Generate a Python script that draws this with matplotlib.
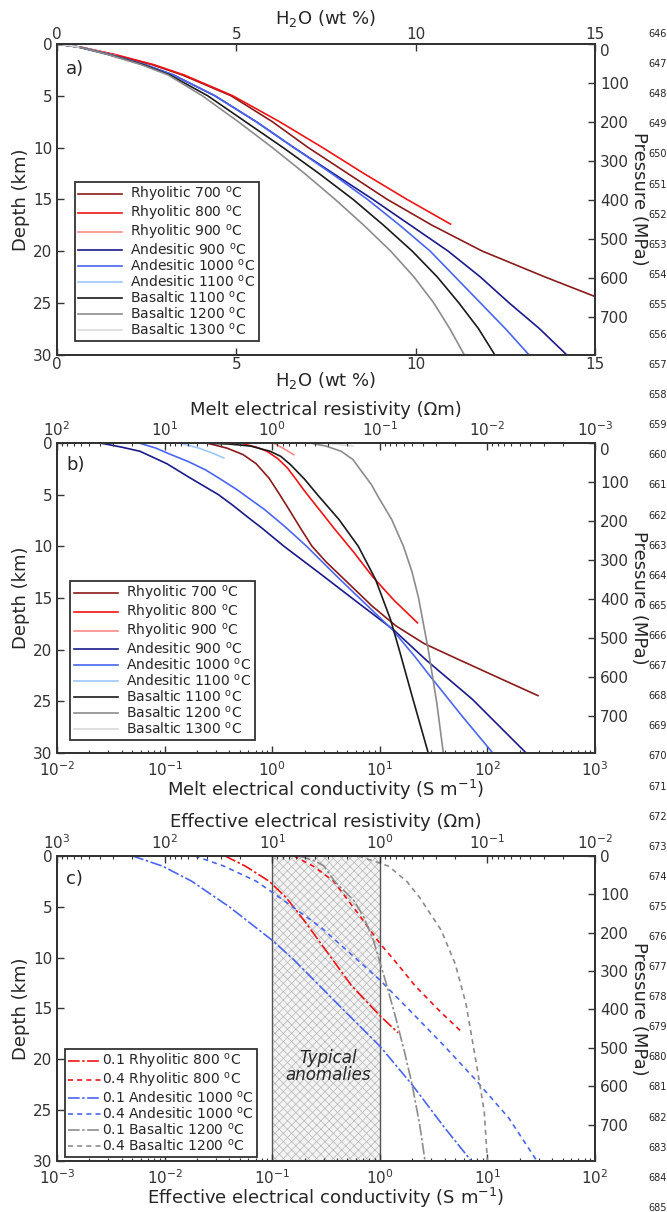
import matplotlib.pyplot as plt
import numpy as np

plt.rcParams['font.family'] = ['DejaVu Sans']
plt.rcParams['axes.unicode_minus'] = False
plt.rcParams['mathtext.default'] = 'regular'
plt.rcParams['hatch.linewidth'] = 0.5
plt.rcParams['hatch.color'] = '#b8b8b8'
plt.rcParams['text.color'] = '#262626'
plt.rcParams['axes.labelcolor'] = '#262626'
plt.rcParams['xtick.color'] = '#333333'
plt.rcParams['ytick.color'] = '#333333'
plt.rcParams['axes.edgecolor'] = '#333333'

MPA_PER_KM = 26.5

# ---------------- panel a : H2O solubility (wt %) vs depth (km)
depth_a = [0, 0.3, 1, 2, 3, 5, 7.5, 10, 12.5, 15, 17.5, 20, 22.5, 25, 27.5, 30]
h2o_and900 = [0, 0.62, 1.45, 2.45, 3.25, 4.4, 5.55, 6.6, 7.7, 8.8, 9.85, 10.9, 11.8, 12.6, 13.45, 14.2]
h2o_and1000 = [0, 0.62, 1.45, 2.45, 3.25, 4.4, 5.55, 6.6, 7.65, 8.65, 9.55, 10.4, 11.1, 11.8, 12.5, 13.15]
h2o_bas1100 = [0, 0.6, 1.42, 2.4, 3.15, 4.2, 5.25, 6.3, 7.3, 8.25, 9.1, 9.9, 10.6, 11.2, 11.75, 12.2]
h2o_bas1200 = [0, 0.6, 1.4, 2.35, 3.1, 4.05, 5.05, 6.0, 6.9, 7.75, 8.55, 9.3, 9.95, 10.5, 10.95, 11.35]

depth_rhy700_a = [0, 0.3, 1, 2, 3, 5, 7.5, 10, 12.5, 15, 17.5, 20, 22.5, 24.4]
h2o_rhy700 = [0, 0.65, 1.55, 2.65, 3.5, 4.85, 6.0, 7.0, 8.1, 9.2, 10.45, 11.85, 13.6, 15.0]
depth_rhy800_a = [0, 0.3, 1, 2, 3, 5, 7.5, 10, 12.5, 15, 17.4]
h2o_rhy800 = [0, 0.65, 1.6, 2.7, 3.55, 4.9, 6.2, 7.4, 8.55, 9.75, 10.97]
depth_rhy900_a = [0, 0.3, 0.6, 1.13]
h2o_rhy900 = [0, 0.65, 1.05, 1.65]
depth_and1100_a = [0, 0.3, 0.7, 1.45]
h2o_and1100 = [0, 0.62, 1.1, 1.85]
depth_bas1300_a = [0, 0.15, 0.3]
h2o_bas1300 = [0, 0.35, 0.6]

# ---------------- panel b : melt conductivity, log10 (S/m)
depth_rhy700_b = [0, 0.5, 1.13, 2, 3.4, 5, 6.5, 8.2, 10, 11.5, 13.5, 15.8, 17.7, 19.4, 20.8, 22.7, 24.45]
logsig_rhy700 = [-0.61, -0.42, -0.27, -0.15, -0.03, 0.07, 0.16, 0.26, 0.37, 0.5, 0.7, 0.93, 1.15, 1.41, 1.7, 2.1, 2.47]
depth_rhy800_b = [0, 0.4, 0.8, 1.5, 2.4, 3.5, 4.5, 5.3, 7.4, 8.2, 10.6, 12.9, 15.2, 17.4]
logsig_rhy800 = [-0.3, -0.15, -0.05, 0.05, 0.14, 0.22, 0.29, 0.35, 0.51, 0.57, 0.76, 0.93, 1.13, 1.35]
depth_rhy900_b = [0, 0.5, 1.13]
logsig_rhy900 = [0.01, 0.1, 0.2]
depth_and900_b = [0, 0.4, 0.8, 2, 3.4, 5, 6, 7.4, 8.2, 10, 12.6, 15, 18.1, 21, 24.8, 30]
logsig_and900 = [-1.6, -1.4, -1.23, -0.98, -0.76, -0.5, -0.37, -0.2, -0.1, 0.11, 0.44, 0.74, 1.13, 1.43, 1.86, 2.36]
depth_and1000_b = [0, 0.5, 1, 1.8, 2.6, 3.5, 4.5, 6.45, 8.2, 10, 12.9, 15.5, 18.1, 20.6, 22.6, 26.5, 30]
logsig_and1000 = [-1.24, -1.08, -0.97, -0.78, -0.62, -0.48, -0.33, -0.07, 0.13, 0.32, 0.6, 0.86, 1.12, 1.32, 1.47, 1.77, 2.05]
depth_and1100_b = [0, 0.5, 1.0, 1.45]
logsig_and1100 = [-0.86, -0.68, -0.55, -0.45]
depth_bas1100_b = [0, 0.1, 0.3, 0.8, 1.3, 2.1, 3.5, 5, 6.2, 7.4, 8.7, 10, 13.2, 17.1, 20, 24.5, 30]
logsig_bas1100 = [-0.67, -0.4, -0.2, -0.02, 0.08, 0.17, 0.3, 0.42, 0.52, 0.62, 0.71, 0.8, 0.96, 1.1, 1.18, 1.3, 1.45]
depth_bas1200_b = [0, 0.3, 0.8, 1.6, 2.6, 4, 5.3, 7.4, 10, 12.5, 15, 20, 25.2, 30]
logsig_bas1200 = [0.35, 0.5, 0.64, 0.75, 0.82, 0.92, 0.99, 1.11, 1.22, 1.3, 1.36, 1.45, 1.53, 1.59]
depth_bas1300_b = [0, 0.15, 0.3]
logsig_bas1300 = [0.48, 0.62, 0.75]

# ---------------- panel c : effective conductivity, log10 (S/m)
depth_rhy_01 = [0, 1, 2.48, 4.1, 6.4, 9.6, 12.8, 15.7, 17.4]
logeff_rhy_01 = [-1.44, -1.25, -1.03, -0.87, -0.7, -0.48, -0.26, 0.0, 0.17]
depth_rhy_04 = [0, 1, 2.48, 5.7, 8.6, 10.2, 12.8, 15.4, 17.4]
logeff_rhy_04 = [-0.8, -0.62, -0.43, -0.2, 0.0, 0.13, 0.33, 0.57, 0.77]
depth_and_01 = [0, 1, 2.48, 5, 8.3, 10.2, 14.9, 18.7, 22.5, 26.7, 30]
logeff_and_01 = [-2.3, -2.02, -1.75, -1.4, -1.0, -0.8, -0.36, 0.0, 0.3, 0.6, 0.85]
depth_and_04 = [0, 1, 2.48, 4.1, 7.0, 10.2, 12.2, 15.1, 18.7, 21.9, 25.8, 30]
logeff_and_04 = [-1.72, -1.45, -1.15, -0.93, -0.55, -0.21, 0.0, 0.27, 0.6, 0.88, 1.2, 1.46]
depth_bas_01 = [0, 0.5, 1, 2.5, 4.4, 6, 8.3, 12.2, 16, 19.3, 22.5, 26.4, 30]
logeff_bas_01 = [-0.75, -0.6, -0.52, -0.42, -0.24, -0.15, -0.06, 0.05, 0.15, 0.23, 0.3, 0.37, 0.42]
depth_bas_04 = [0, 1, 2.5, 4.1, 7.3, 10.6, 14.5, 20.6, 25.1, 30]
logeff_bas_04 = [-0.2, 0.08, 0.25, 0.37, 0.57, 0.7, 0.8, 0.9, 0.97, 1.0]

anomaly_range = [0.1, 1.0]
line_numbers = list(range(646, 686))

deg = r"$^{\mathrm{o}}$C"
c_rhy700, c_rhy800, c_rhy900 = '#8b1a1a', '#f01414', '#ff8a8a'
c_and900, c_and1000, c_and1100 = '#1a1a8c', '#4a66f0', '#9cc8ff'
c_bas1100, c_bas1200, c_bas1300 = '#1a1a1a', '#8c8c8c', '#dadada'

fig = plt.figure(figsize=(6.67, 12.12), dpi=100)
ax_a = fig.add_axes([0.0855, 0.7075, 0.8066, 0.2562])
ax_b = fig.add_axes([0.0855, 0.3787, 0.8066, 0.2558])
ax_c = fig.add_axes([0.0855, 0.0421, 0.8066, 0.2517])


def style(ax, pad=3.5):
    for s in ax.spines.values():
        s.set_linewidth(1.2)
    ax.tick_params(which='major', direction='in', length=5, width=1, labelsize=11, pad=pad)
    ax.tick_params(which='minor', direction='in', length=2.5, width=0.8)


def dress(ax, top_label, bottom_label, log, xpad, botxpad, toppad, botpad, zero_low):
    ax.set_ylim(30, 0)
    ax.set_yticks(range(0, 31, 5))
    ax.set_ylabel("Depth (km)", fontsize=13, labelpad=2)
    ax.set_xlabel(bottom_label, fontsize=13, labelpad=botpad)
    style(ax)
    ax.tick_params(axis='x', pad=botxpad)
    axt = ax.twiny()
    lo, hi = ax.get_xlim()
    if log:
        axt.set_xscale('log')
        axt.set_xlim(1 / lo, 1 / hi)
    else:
        axt.set_xlim(lo, hi)
        axt.set_xticks(ax.get_xticks())
    axt.set_xlabel(top_label, fontsize=13, labelpad=toppad)
    style(axt, pad=xpad)
    axr = ax.twinx()
    axr.set_ylim(30 * MPA_PER_KM, 0)
    axr.set_yticks(range(0, 800, 100))
    axr.set_ylabel("Pressure (MPa)", fontsize=13, rotation=270, labelpad=1, va='bottom')
    style(axr)
    if zero_low:
        axr.yaxis.get_major_ticks()[0].label2.set_va('top')


def legend(ax, handles, anchor, hl, tp):
    leg = ax.legend(handles=handles, loc='lower left', bbox_to_anchor=anchor, borderaxespad=0,
                    fontsize=10, labelspacing=0, handlelength=hl, handletextpad=tp,
                    frameon=True, fancybox=False, framealpha=1, borderpad=0.22)
    leg.get_frame().set_edgecolor('#333333')
    leg.get_frame().set_linewidth(1.3)


lw = 1.2
# ---- a
ax = ax_a
h = []
h += ax.plot(h2o_rhy700, depth_rhy700_a, color=c_rhy700, lw=lw, label="Rhyolitic 700 " + deg)
h += ax.plot(h2o_rhy800, depth_rhy800_a, color=c_rhy800, lw=lw, label="Rhyolitic 800 " + deg)
h += ax.plot(h2o_rhy900, depth_rhy900_a, color=c_rhy900, lw=lw, label="Rhyolitic 900 " + deg)
h += ax.plot(h2o_and900, depth_a, color=c_and900, lw=lw, label="Andesitic 900 " + deg)
h += ax.plot(h2o_and1000, depth_a, color=c_and1000, lw=lw, label="Andesitic 1000 " + deg)
h += ax.plot(h2o_and1100, depth_and1100_a, color=c_and1100, lw=lw, label="Andesitic 1100 " + deg)
h += ax.plot(h2o_bas1100, depth_a, color=c_bas1100, lw=lw, label="Basaltic 1100 " + deg)
h += ax.plot(h2o_bas1200, depth_a, color=c_bas1200, lw=lw, label="Basaltic 1200 " + deg)
h += ax.plot(h2o_bas1300, depth_bas1300_a, color=c_bas1300, lw=lw, label="Basaltic 1300 " + deg)
ax.set_xlim(0, 15)
ax.set_xticks([0, 5, 10, 15])
dress(ax, r"H$_2$O (wt %)", r"H$_2$O (wt %)", False, 1.5, 1.5, 2, -1, True)
legend(ax, h, (0.0325, 0.0435), 3.2, 0.6)
ax.text(0.017, 0.918, "a)", transform=ax.transAxes, fontsize=13, va='center')

# ---- b
ax = ax_b
ax.set_xscale('log')
h = []
h += ax.plot(10 ** np.array(logsig_rhy700), depth_rhy700_b, color=c_rhy700, lw=lw, label="Rhyolitic 700 " + deg)
h += ax.plot(10 ** np.array(logsig_rhy800), depth_rhy800_b, color=c_rhy800, lw=lw, label="Rhyolitic 800 " + deg)
h += ax.plot(10 ** np.array(logsig_rhy900), depth_rhy900_b, color=c_rhy900, lw=lw, label="Rhyolitic 900 " + deg)
h += ax.plot(10 ** np.array(logsig_and900), depth_and900_b, color=c_and900, lw=lw, label="Andesitic 900 " + deg)
h += ax.plot(10 ** np.array(logsig_and1000), depth_and1000_b, color=c_and1000, lw=lw, label="Andesitic 1000 " + deg)
h += ax.plot(10 ** np.array(logsig_and1100), depth_and1100_b, color=c_and1100, lw=lw, label="Andesitic 1100 " + deg)
h += ax.plot(10 ** np.array(logsig_bas1100), depth_bas1100_b, color=c_bas1100, lw=lw, label="Basaltic 1100 " + deg)
h += ax.plot(10 ** np.array(logsig_bas1200), depth_bas1200_b, color=c_bas1200, lw=lw, label="Basaltic 1200 " + deg)
h += ax.plot(10 ** np.array(logsig_bas1300), depth_bas1300_b, color=c_bas1300, lw=lw, label="Basaltic 1300 " + deg)
ax.set_xlim(1e-2, 1e3)
dress(ax, "Melt electrical resistivity (\u03a9m)", "Melt electrical conductivity (S m$^{-1}$)", True, 3, 5.5, 4, -1, True)
legend(ax, h, (0.025, 0.042), 3.2, 0.6)
ax.text(0.017, 0.93, "b)", transform=ax.transAxes, fontsize=13, va='center')

# ---- c
ax = ax_c
ax.set_xscale('log')
ax.axvspan(anomaly_range[0], anomaly_range[1], facecolor='#f3f3f3', hatch='xxxx',
           edgecolor='#b8b8b8', linewidth=0, zorder=0)
for v in anomaly_range:
    ax.axvline(v, color='#555555', lw=1.0, zorder=1)
dd = (0, (7, 1.5, 1.5, 1.5))
ds = (0, (3, 2.5))
h = []
h += ax.plot(10 ** np.array(logeff_rhy_01), depth_rhy_01, color=c_rhy800, lw=lw, ls=dd, label="0.1 Rhyolitic 800 " + deg)
h += ax.plot(10 ** np.array(logeff_rhy_04), depth_rhy_04, color=c_rhy800, lw=lw, ls=ds, label="0.4 Rhyolitic 800 " + deg)
h += ax.plot(10 ** np.array(logeff_and_01), depth_and_01, color=c_and1000, lw=lw, ls=dd, label="0.1 Andesitic 1000 " + deg)
h += ax.plot(10 ** np.array(logeff_and_04), depth_and_04, color=c_and1000, lw=lw, ls=ds, label="0.4 Andesitic 1000 " + deg)
h += ax.plot(10 ** np.array(logeff_bas_01), depth_bas_01, color=c_bas1200, lw=lw, ls=dd, label="0.1 Basaltic 1200 " + deg)
h += ax.plot(10 ** np.array(logeff_bas_04), depth_bas_04, color=c_bas1200, lw=lw, ls=ds, label="0.4 Basaltic 1200 " + deg)
ax.set_xlim(1e-3, 1e2)
dress(ax, "Effective electrical resistivity (\u03a9m)", "Effective electrical conductivity (S m$^{-1}$)", True, 3, 5.5, 4, -1, False)
legend(ax, h, (0.014, 0.013), 2.4, 0.1)
ax.text(0.017, 0.925, "c)", transform=ax.transAxes, fontsize=13, va='center')
ax.text(0.33, 20.7, "Typical\nanomalies", fontsize=12, style='italic', ha='center', va='center',
        linespacing=0.95)

for n in line_numbers:
    y = 34 + (n - 646) * 30.1
    fig.text(658 / 667, 1 - y / 1212, str(n), fontsize=7, ha='center', va='center', color='#222222')

fig.savefig("out.png", dpi=100)
